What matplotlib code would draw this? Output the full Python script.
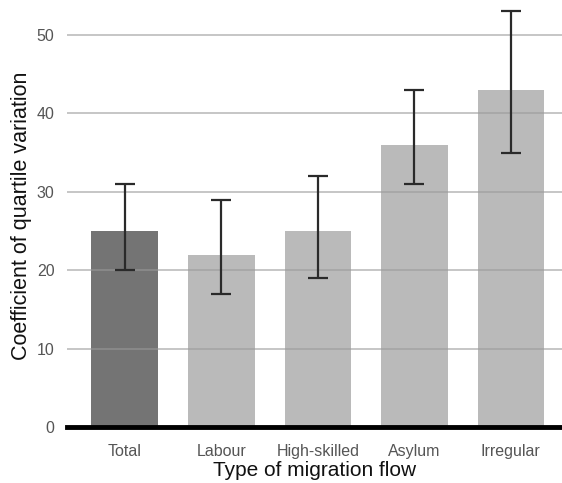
import matplotlib
matplotlib.use("Agg")
import matplotlib.pyplot as plt
import numpy as np

plt.rcParams['font.family'] = ['Liberation Sans', 'DejaVu Sans']

categories = ["Total", "Labour", "High-skilled", "Asylum", "Irregular"]
values = [25, 22, 25, 36, 43]
lower = [20, 17, 19, 31, 35]
upper = [31, 29, 32, 43, 53]
colors = ["#747474", "#bababa", "#bababa", "#bababa", "#bababa"]

fig = plt.figure(figsize=(5.62, 4.83), dpi=100)
ax = fig.add_axes([0.119, 0.1159, 0.881, 0.8766])

x = np.arange(len(categories))
ax.bar(x, values, width=0.69, color=colors, zorder=1)
yerr = [np.array(values) - np.array(lower), np.array(upper) - np.array(values)]
ax.errorbar(x, values, yerr=yerr, fmt="none", ecolor="#2a2a2a", elinewidth=1.6,
            capsize=7, capthick=1.6, zorder=3)

ax.set_xlim(-0.6, 4.53)
ax.set_ylim(0, 54)
ax.set_yticks([0, 10, 20, 30, 40, 50])
ax.yaxis.grid(True, color="#999999", alpha=0.6, linewidth=1.3, zorder=2)
ax.set_axisbelow(False)
for s in ["top", "right", "left"]:
    ax.spines[s].set_visible(False)
ax.spines["bottom"].set_linewidth(3.5)
ax.spines["bottom"].set_color("black")
ax.spines["bottom"].set_zorder(4)
ax.tick_params(axis="both", length=0, labelsize=11.5, labelcolor="#555555")
ax.tick_params(axis="x", pad=12)
ax.tick_params(axis="y", pad=9)
ax.set_xticks(x)
ax.set_xticklabels(categories)
ax.set_xlabel("Type of migration flow", fontsize=15, labelpad=2, color="#111111")
ax.set_ylabel("Coefficient of quartile variation", fontsize=15.5, labelpad=3, color="#111111")

fig.savefig("out.png", dpi=100)
